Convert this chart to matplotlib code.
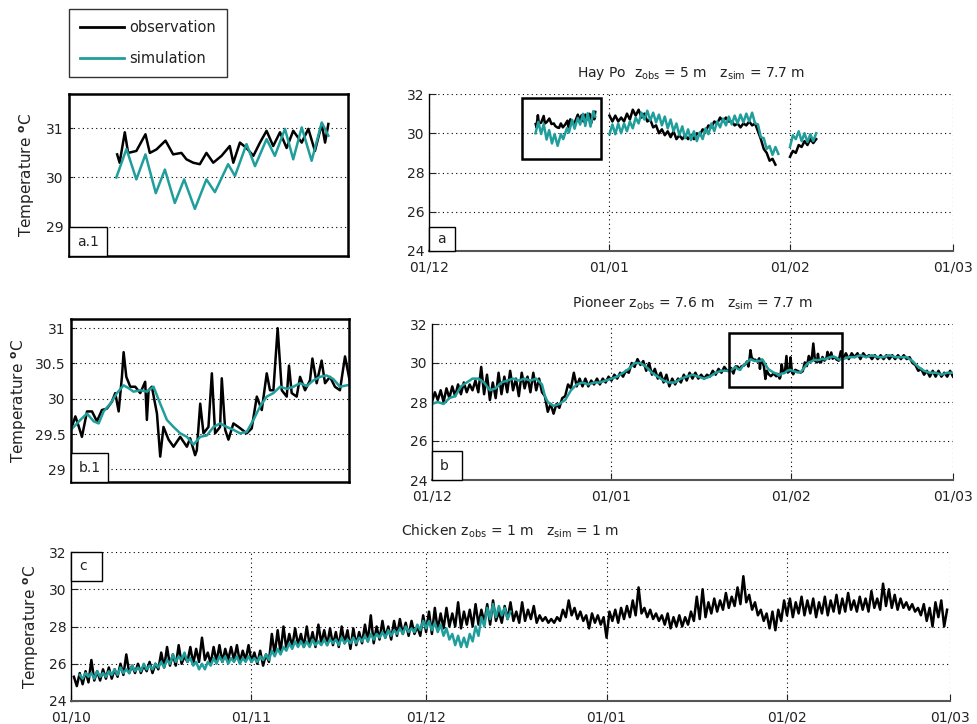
import numpy as np
import pandas as pd
import matplotlib
matplotlib.use('Agg')
import matplotlib.pyplot as plt
import matplotlib.dates as mdates
from matplotlib.patches import Rectangle
from matplotlib.lines import Line2D

plt.rcParams['font.family'] = ['DejaVu Sans']
plt.rcParams['mathtext.default'] = 'regular'

OBS_COLOR = 'black'
SIM_COLOR = '#1f9e9b'
STEP = 0.5  # sampling step (days) of the regularly sampled series

# ---------------- Hay Point (days since 1 Dec 2010) ----------------
hay_base = '2010-12-01'
hay_obs1_day = [18.33, 18.45, 18.70, 18.86, 19.26, 19.70, 19.91, 20.23, 20.67, 21.04, 21.44, 21.68,
                22.01, 22.33, 22.65, 22.98, 23.38, 23.78, 23.95, 24.27, 24.59, 24.92, 25.24, 25.56,
                25.88, 26.21, 26.53, 26.85, 27.26, 27.58, 27.90, 28.23, 28.39, 28.55]
hay_obs1_val = [30.47, 30.30, 30.92, 30.50, 30.54, 30.88, 30.50, 30.57, 30.75, 30.47, 30.50, 30.37,
                30.30, 30.27, 30.50, 30.30, 30.44, 30.64, 30.30, 30.71, 30.60, 30.44, 30.71, 30.95,
                30.64, 30.92, 30.60, 30.95, 30.71, 30.99, 30.54, 31.09, 30.71, 31.09]
hay_sim1_day = [18.29, 18.78, 19.26, 19.70, 20.20, 20.64, 21.12, 21.57, 22.09, 22.65, 23.06, 23.70,
                24.03, 24.59, 25.00, 25.56, 25.96, 26.45, 26.85, 27.26, 27.74, 28.23, 28.55]
hay_sim1_val = [30.00, 30.58, 29.96, 30.47, 29.68, 30.16, 29.48, 29.96, 29.36, 29.96, 29.70, 30.27,
                30.03, 30.68, 30.23, 30.78, 30.44, 30.99, 30.37, 31.02, 30.34, 31.12, 30.85]
hay_obs2_start = 31.0
hay_obs2 = [30.9, 30.6, 30.9, 30.6, 30.8, 30.6, 31.0, 30.7, 31.2, 30.9, 31.2, 30.8, 31.0, 30.6,
            30.7, 30.3, 30.4, 30.0, 30.2, 29.9, 30.1, 29.8, 30.1, 29.7, 29.9, 29.7, 29.9, 29.7,
            29.9, 29.7, 30.0, 29.9, 30.2, 30.1, 30.4, 30.3, 30.6, 30.5, 30.8, 30.6, 30.8, 30.6,
            30.6, 30.4, 30.5, 30.3, 30.5, 30.4, 30.6, 30.4, 30.5, 30.1, 29.7, 29.2, 29.0, 28.6,
            28.7, 28.4]
hay_sim2_start = 31.0
hay_sim2 = [29.95, 30.45, 29.95, 30.5, 30.0, 30.5, 30.1, 30.6, 30.25, 30.8, 30.5, 31.05, 30.7,
            31.15, 30.65, 31.05, 30.55, 30.95, 30.4, 30.85, 30.25, 30.7, 30.1, 30.5, 29.9, 30.35,
            29.75, 30.2, 29.65, 30.1, 29.6, 30.05, 29.7, 30.25, 29.95, 30.5, 30.1, 30.6, 30.3,
            30.75, 30.4, 30.85, 30.45, 30.9, 30.5, 30.95, 30.55, 31.0, 30.6, 31.05, 30.5, 30.45,
            29.8, 29.75, 29.2, 29.35, 28.9, 29.3, 28.95]
hay_obs3_start = 62.0
hay_obs3 = [28.8, 29.1, 29.0, 29.4, 29.3, 29.6, 29.4, 29.7, 29.5, 29.7]
hay_sim3_start = 62.0
hay_sim3 = [29.3, 29.9, 29.7, 30.1, 29.6, 30.0, 29.55, 29.95, 29.6, 30.0]
hay_zoom_box = [16.0, 29.5, 28.7, 31.8]      # x0, x1 (days), y0, y1 of the a.1 window
hay_zoom_ylim = [28.4, 31.7]
hay_zoom_yticks = [29, 30, 31]

# ---------------- Pioneer (days since 1 Dec 2010) ----------------
pio_base = '2010-12-01'
pio_obs_early_start = 0.0
pio_obs_early = [28.0, 28.5, 28.1, 28.6, 28.0, 28.7, 28.2, 28.8, 28.3, 28.9, 28.4, 29.0, 28.5, 28.9,
                 28.6, 29.1, 28.5, 29.8, 28.4, 29.4, 28.1, 29.0, 28.2, 29.5, 28.4, 29.3, 28.5, 29.6,
                 28.6, 29.2, 28.3, 29.5, 28.7, 29.3, 28.5, 29.5, 28.6, 29.2, 28.5, 28.3, 27.5, 27.9,
                 27.4, 27.9, 27.7, 28.2, 28.3, 28.9, 28.7, 29.5, 28.8, 29.2, 28.8, 29.2, 28.8, 29.1,
                 28.9, 29.2, 28.9, 29.2, 29.0, 29.3, 29.1, 29.4, 29.2, 29.5, 29.3, 29.6, 29.5, 30.0,
                 29.8, 30.2, 29.9, 30.1, 29.6, 30.0, 29.4, 29.7, 29.2, 29.5, 29.0, 29.4, 28.8, 29.2,
                 28.9, 29.2, 29.0, 29.4, 29.1, 29.5, 29.2, 29.5, 29.2, 29.4, 29.2, 29.4, 29.3, 29.6,
                 29.4, 29.7, 29.5, 29.8, 29.6]
pio_obs_zoom_day = [51.37, 51.61, 51.84, 52.07, 52.43, 52.78, 53.13, 53.48, 53.83, 54.19, 54.42,
                    54.66, 54.89, 55.01, 55.20, 55.48, 55.83, 56.18, 56.53, 56.65, 56.77, 57.00,
                    57.36, 57.59, 57.82, 58.18, 58.53, 59.00, 59.47, 59.70, 60.05, 60.17, 60.41,
                    60.64, 60.99, 61.23, 61.46, 61.81, 61.93, 62.17, 62.40, 62.75, 63.11, 63.69,
                    64.04, 64.40, 64.75, 65.10, 65.33, 65.57, 65.87, 66.16, 66.51, 66.67, 66.86,
                    67.21, 67.45, 67.80, 68.15, 68.32, 68.62, 68.97, 69.21, 69.56, 69.91, 70.26,
                    70.62]
pio_obs_zoom_val = [29.61, 29.75, 29.61, 29.46, 29.82, 29.82, 29.68, 29.84, 29.86, 29.96, 30.08,
                    29.82, 30.31, 30.66, 30.31, 30.17, 30.17, 30.08, 30.24, 29.70, 30.12, 30.17,
                    29.79, 29.18, 29.60, 29.42, 29.32, 29.46, 29.32, 29.44, 29.20, 29.27, 29.93,
                    29.51, 29.60, 30.36, 29.51, 29.60, 30.29, 29.56, 29.42, 29.65, 29.60, 29.51,
                    29.58, 30.03, 29.84, 30.36, 30.12, 30.12, 31.00, 30.12, 30.03, 30.47, 30.08,
                    30.03, 30.31, 30.12, 30.26, 30.57, 30.22, 30.54, 30.22, 30.31, 30.17, 30.12,
                    30.60]
pio_obs_late_start = 71.0
pio_obs_late = [30.2, 30.5, 30.2, 30.5, 30.3, 30.5, 30.2, 30.5, 30.3, 30.4, 30.2, 30.4, 30.2, 30.4,
                30.2, 30.4, 30.2, 30.4, 30.2, 30.4, 30.2, 30.4, 30.2, 30.3, 30.0, 29.9, 29.6, 29.7,
                29.4, 29.6, 29.3, 29.6, 29.3, 29.6, 29.3, 29.5, 29.3, 29.6, 29.3]
pio_sim_day = [0, 1, 2, 3, 4, 5, 6, 7, 8, 9, 10, 11, 12, 13, 14, 15, 16, 17, 18, 19, 19.5, 20, 21,
               22, 23, 24, 25, 26, 27, 28, 29, 30, 31, 32, 33, 34, 35, 36, 37, 38, 39, 40, 41, 42,
               43, 44, 45, 46, 47, 48, 49, 50, 51,
               51.30, 51.96, 52.43, 52.90, 53.25, 53.60, 54.07, 54.54, 55.01, 55.36, 55.71, 56.18,
               56.65, 57.12, 57.59, 58.06, 58.53, 59.00, 59.47, 59.94, 60.41, 60.88, 61.35, 61.81,
               62.28, 62.75, 63.22, 63.69, 64.16, 64.63, 65.10, 65.57, 66.04, 66.51, 66.98, 67.45,
               67.92, 68.39, 68.86, 69.32, 69.79, 70.26,
               71, 72, 73, 74, 75, 76, 77, 78, 79, 80, 81, 82, 83, 84, 85, 86, 87, 88, 89, 90]
pio_sim_val = [27.9, 28.0, 27.9, 28.2, 28.3, 28.8, 29.0, 29.2, 29.2, 29.0, 28.6, 28.7, 29.0, 29.1,
               29.2, 29.1, 29.2, 29.1, 29.2, 28.9, 28.3, 28.0, 27.8, 27.9, 28.1, 28.6, 28.9, 29.0,
               28.9, 29.0, 29.0, 29.1, 29.2, 29.3, 29.5, 29.7, 30.0, 30.0, 29.8, 29.5, 29.3, 29.1,
               29.0, 29.0, 29.2, 29.3, 29.4, 29.3, 29.2, 29.3, 29.5, 29.6, 29.6,
               29.56, 29.70, 29.79, 29.68, 29.65, 29.82, 29.93, 30.08, 30.19, 30.15, 30.10, 30.12,
               30.10, 30.17, 29.93, 29.70, 29.60, 29.51, 29.46, 29.35, 29.46, 29.48, 29.60, 29.65,
               29.60, 29.56, 29.51, 29.53, 29.70, 29.89, 30.03, 30.08, 30.17, 30.14, 30.17, 30.22,
               30.18, 30.26, 30.31, 30.33, 30.28, 30.17,
               30.2, 30.3, 30.3, 30.4, 30.3, 30.4, 30.3, 30.3, 30.4, 30.3, 30.3, 30.3, 30.1, 29.8,
               29.6, 29.5, 29.5, 29.4, 29.5, 29.5]
pio_zoom_box = [51.3, 70.9, 28.78, 31.52]
pio_zoom_ylim = [28.82, 31.13]
pio_zoom_yticks = [29, 29.5, 30, 30.5, 31]

# ---------------- Chicken (days since 1 Oct 2010) ----------------
chk_base = '2010-10-01'
chk_obs_start = 0.5
chk_obs = [25.3, 24.8, 25.5, 24.9, 25.6, 25.0, 26.2, 25.1, 25.6, 25.1,
           25.7, 25.2, 25.8, 25.2, 25.7, 25.3, 26.0, 25.4, 26.5, 25.5,
           25.9, 25.5, 26.0, 25.5, 25.9, 25.6, 26.1, 25.5, 26.0, 25.7,
           26.6, 25.8, 26.9, 25.9, 26.5, 25.9, 27.0, 26.0, 26.4, 26.1,
           26.9, 26.0, 26.8, 26.1, 27.4, 26.2, 26.6, 26.0, 26.9, 26.1,
           27.0, 26.1, 26.8, 26.2, 26.9, 26.2, 27.0, 26.1, 26.7, 26.2,
           27.0, 26.1, 26.6, 26.0, 26.7, 25.9, 26.5, 26.1, 27.6, 26.5,
           27.8, 26.6, 28.0, 26.8, 27.6, 26.9, 27.9, 27.0, 27.6, 26.9,
           28.0, 27.0, 27.7, 26.9, 28.1, 27.1, 27.8, 27.0, 27.9, 27.0,
           27.7, 26.9, 28.0, 27.1, 27.8, 26.8, 27.9, 27.0, 27.7, 27.1,
           28.1, 27.2, 28.6, 27.1, 28.0, 27.3, 28.3, 27.4, 28.0, 27.3,
           28.3, 27.5, 28.4, 27.6, 28.2, 27.5, 28.3, 27.6, 28.0, 27.5,
           28.6, 27.7, 28.8, 27.6, 29.0, 27.8, 28.7, 27.9, 29.0, 28.0,
           28.7, 28.0, 29.3, 27.9, 28.8, 28.1, 28.9, 28.0, 29.2, 28.1,
           28.9, 28.2, 29.2, 28.1, 29.4, 28.3, 28.8, 28.2, 29.1, 28.4,
           29.3, 28.3, 28.8, 28.2, 29.3, 28.3, 28.9, 28.4, 29.1, 28.2,
           28.6, 28.3, 28.5, 28.2, 28.4, 28.2, 28.5, 28.3, 28.9, 28.5,
           29.4, 28.6, 29.0, 28.4, 28.8, 28.3, 28.6, 27.9, 28.7, 28.2,
           28.6, 28.1, 28.5, 27.4, 28.8, 28.3, 28.9, 28.2, 29.0, 28.4,
           29.1, 28.5, 29.4, 28.6, 30.1, 28.7, 29.0, 28.5, 28.9, 28.4,
           28.7, 28.3, 28.6, 28.1, 28.7, 27.9, 28.5, 28.0, 28.6, 28.0,
           28.5, 28.1, 28.8, 28.3, 29.6, 28.4, 30.0, 28.5, 29.3, 28.7,
           29.5, 28.8, 29.4, 28.9, 29.8, 29.0, 29.6, 29.1, 30.1, 29.2,
           30.7, 29.3, 29.7, 28.9, 29.3, 28.6, 28.9, 28.3, 28.7, 27.9,
           28.8, 27.8, 28.9, 28.3, 29.4, 28.6, 29.5, 28.5, 29.3, 28.7,
           29.6, 28.6, 29.4, 28.7, 29.5, 28.5, 29.3, 28.7, 29.6, 28.6,
           29.4, 28.8, 29.7, 28.7, 29.5, 28.8, 29.8, 28.9, 29.4, 28.8,
           29.6, 28.9, 29.5, 28.8, 29.9, 29.0, 29.5, 28.9, 30.3, 29.1,
           30.0, 29.0, 29.7, 28.9, 29.5, 29.0, 29.3, 28.9, 29.2, 28.8,
           29.0, 28.6, 29.2, 28.3, 29.0, 28.0, 29.3, 28.5, 29.4, 28.0,
           28.9]
chk_sim_start = 1.5
chk_sim = [25.4, 25.2, 25.5, 25.3, 25.5, 25.2, 25.6, 25.3, 25.5,
           25.3, 25.6, 25.4, 25.7, 25.4, 25.8, 25.5, 25.7, 25.5,
           25.9, 25.6, 25.8, 25.6, 26.0, 25.7, 25.9, 25.7, 26.0, 25.8,
           26.1, 25.8, 26.2, 26.0, 26.5, 26.1, 26.4, 26.2, 26.6, 26.1,
           26.3, 25.9, 26.1, 25.7, 26.0, 25.7, 26.1, 25.9, 26.3, 26.0,
           26.4, 26.1, 26.4, 26.0, 26.3, 26.1, 26.4, 26.0, 26.3, 26.1,
           26.4, 26.1, 26.3, 26.1, 26.4, 26.2, 26.5, 26.2, 26.7, 26.4,
           26.8, 26.5, 26.9, 26.7, 27.1, 26.8, 27.2, 26.9, 27.2, 26.9,
           27.2, 26.9, 27.3, 27.0, 27.2, 27.0, 27.3, 27.0, 27.3, 27.1,
           27.3, 27.0, 27.4, 27.1, 27.3, 27.1, 27.4, 27.1, 27.4, 27.2,
           27.5, 27.2, 27.6, 27.3, 27.6, 27.4, 27.7, 27.4, 27.8, 27.5,
           27.8, 27.6, 27.9, 27.6, 28.0, 27.7, 27.9, 27.7, 28.1, 27.8,
           28.3, 27.9, 28.3, 27.8, 28.2, 27.7, 28.1, 27.5, 27.9, 27.3,
           27.6, 27.0, 27.5, 26.9, 27.4, 26.9, 27.6, 27.2, 28.0, 27.5,
           28.5, 28.0, 29.0, 28.4, 29.2, 28.5, 29.1, 28.6, 29.0, 28.4, 28.8]

# axis ticks
ab_tick_dates = ['2010-12-01', '2011-01-01', '2011-02-01', '2011-03-01']
ab_tick_labels = ['01/12', '01/01', '01/02', '01/03']
c_tick_dates = ['2010-10-01', '2010-11-01', '2010-12-01', '2011-01-01', '2011-02-01', '2011-03-01']
c_tick_labels = ['01/10', '01/11', '01/12', '01/01', '01/02', '01/03']
main_yticks = [24, 26, 28, 30, 32]

titles = {
    'a': r'Hay Po  z$_{obs}$ = 5 m   z$_{sim}$ = 7.7 m',
    'b': r'Pioneer z$_{obs}$ = 7.6 m   z$_{sim}$ = 7.7 m',
    'c': r'Chicken z$_{obs}$ = 1 m   z$_{sim}$ = 1 m',
}
ylabel_txt = r'Temperature $^{\mathbf{o}}$C'
legend_labels = ['observation', 'simulation']

# ---------------------------------------------------------------------------
W, H = 977, 724
fig = plt.figure(figsize=(W / 100, H / 100), dpi=100)


def px_axes(l, t, r, b):
    return fig.add_axes([l / W, 1 - b / H, (r - l) / W, (b - t) / H])


def tonum(base, days):
    return mdates.date2num(pd.Timestamp(base)) + np.asarray(days, dtype=float)


def reg(base, start, vals):
    return tonum(base, start + STEP * np.arange(len(vals))), np.asarray(vals)


DOT = (0, (1, 3))
LW = 1.8


def style_main(ax, tick_dates, tick_labels):
    ax.set_ylim(24, 32)
    ticks = mdates.date2num(pd.to_datetime(tick_dates))
    ax.set_xlim(ticks[0], ticks[-1])
    ax.set_xticks(ticks)
    ax.set_xticklabels(tick_labels)
    ax.set_yticks(main_yticks)
    ax.grid(True, color='black', linestyle=DOT, linewidth=0.8)
    ax.spines['top'].set_visible(False)
    ax.spines['right'].set_visible(False)
    ax.spines['left'].set_color('black')
    ax.spines['left'].set_linewidth(1.0)
    ax.spines['bottom'].set_color('#555555')
    ax.spines['bottom'].set_linewidth(1.5)
    ax.tick_params(direction='in', length=5, labelsize=10, colors='#222222', pad=3)
    ax.tick_params(axis='x', pad=7)
    ax.set_axisbelow(True)


def style_zoom(ax, ylim, yticks):
    ax.set_ylim(*ylim)
    ax.set_yticks(yticks)
    ax.set_yticklabels([('%g' % v) for v in yticks])
    ax.set_xticks([])
    ax.grid(True, axis='y', color='black', linestyle=DOT, linewidth=0.8)
    for s in ax.spines.values():
        s.set_linewidth(1.8)
        s.set_color('black')
    ax.tick_params(direction='in', length=3, labelsize=10, colors='#222222', pad=4)
    ax.set_axisbelow(True)


def tag(ax, text, w_px, h_px, top=False):
    bb = ax.get_position()
    aw, ah = bb.width * W, bb.height * H
    w, h = w_px / aw, h_px / ah
    y0 = 1 - h if top else 0
    ax.add_patch(Rectangle((0, y0), w, h, transform=ax.transAxes, facecolor='white',
                           edgecolor='black', linewidth=1.0, zorder=5, clip_on=False))
    ax.text(8 / aw, y0 + h / 2, text, transform=ax.transAxes, ha='left', va='center',
            fontsize=10, color='#222222', zorder=6)


def box(ax, base, bx):
    x0, x1 = tonum(base, [bx[0], bx[1]])
    ax.add_patch(Rectangle((x0, bx[2]), x1 - x0, bx[3] - bx[2], fill=False,
                           edgecolor='black', linewidth=1.8, zorder=4))


def plot_hay(ax):
    ax.plot(tonum(hay_base, hay_obs1_day), hay_obs1_val, color=OBS_COLOR, lw=LW)
    ax.plot(tonum(hay_base, hay_sim1_day), hay_sim1_val, color=SIM_COLOR, lw=LW)
    for start, vals, c in [(hay_obs2_start, hay_obs2, OBS_COLOR), (hay_sim2_start, hay_sim2, SIM_COLOR),
                           (hay_obs3_start, hay_obs3, OBS_COLOR), (hay_sim3_start, hay_sim3, SIM_COLOR)]:
        x, y = reg(hay_base, start, vals)
        ax.plot(x, y, color=c, lw=LW)


def plot_pio(ax):
    x1, y1 = reg(pio_base, pio_obs_early_start, pio_obs_early)
    x2, y2 = tonum(pio_base, pio_obs_zoom_day), np.asarray(pio_obs_zoom_val)
    x3, y3 = reg(pio_base, pio_obs_late_start, pio_obs_late)
    ax.plot(np.concatenate([x1, x2, x3]), np.concatenate([y1, y2, y3]), color=OBS_COLOR, lw=LW)
    ax.plot(tonum(pio_base, pio_sim_day), pio_sim_val, color=SIM_COLOR, lw=LW)


# ---- a.1 ----
ax_a1 = px_axes(69, 94, 348, 256)
plot_hay(ax_a1)
ax_a1.set_xlim(*tonum(hay_base, hay_zoom_box[:2]))
style_zoom(ax_a1, hay_zoom_ylim, hay_zoom_yticks)
ax_a1.set_ylabel(ylabel_txt, fontsize=11, color='#222222', labelpad=6)
tag(ax_a1, 'a.1', 38, 29)

# ---- a ----
ax_a = px_axes(429, 94, 953, 251)
plot_hay(ax_a)
style_main(ax_a, ab_tick_dates, ab_tick_labels)
box(ax_a, hay_base, hay_zoom_box)
ax_a.set_title(titles['a'], fontsize=10, color='#222222', pad=12)
tag(ax_a, 'a', 26, 24)

# ---- b.1 ----
ax_b1 = px_axes(71, 319, 349, 482)
plot_pio(ax_b1)
ax_b1.set_xlim(*tonum(pio_base, pio_zoom_box[:2]))
style_zoom(ax_b1, pio_zoom_ylim, pio_zoom_yticks)
ax_b1.set_ylabel(ylabel_txt, fontsize=11, color='#222222', labelpad=4)
tag(ax_b1, 'b.1', 37, 29)

# ---- b ----
ax_b = px_axes(432, 324, 953, 480)
plot_pio(ax_b)
style_main(ax_b, ab_tick_dates, ab_tick_labels)
box(ax_b, pio_base, pio_zoom_box)
ax_b.set_title(titles['b'], fontsize=10, color='#222222', pad=12)
tag(ax_b, 'b', 30, 29)

# ---- c ----
ax_c = px_axes(71, 552, 950, 701)
x, y = reg(chk_base, chk_obs_start, chk_obs)
ax_c.plot(x, y, color=OBS_COLOR, lw=LW)
x, y = reg(chk_base, chk_sim_start, chk_sim)
ax_c.plot(x, y, color=SIM_COLOR, lw=LW)
style_main(ax_c, c_tick_dates, c_tick_labels)
ax_c.set_ylabel(ylabel_txt, fontsize=11, color='#222222', labelpad=6)
ax_c.set_title(titles['c'], fontsize=10, color='#222222', pad=12)
tag(ax_c, 'c', 31, 29, top=True)

# ---- legend ----
handles = [Line2D([], [], color=OBS_COLOR, lw=2), Line2D([], [], color=SIM_COLOR, lw=2)]
leg = fig.legend(handles, legend_labels, loc='upper left', bbox_to_anchor=(69 / W, 1 - 9 / H),
                 borderaxespad=0, frameon=True, fancybox=False, edgecolor='black',
                 fontsize=10.5, handlelength=3.0, handletextpad=0.4, labelspacing=1.1,
                 borderpad=0.75)
leg.get_frame().set_linewidth(1.0)
for t in leg.get_texts():
    t.set_color('#222222')

fig.savefig('out.png', dpi=100)
